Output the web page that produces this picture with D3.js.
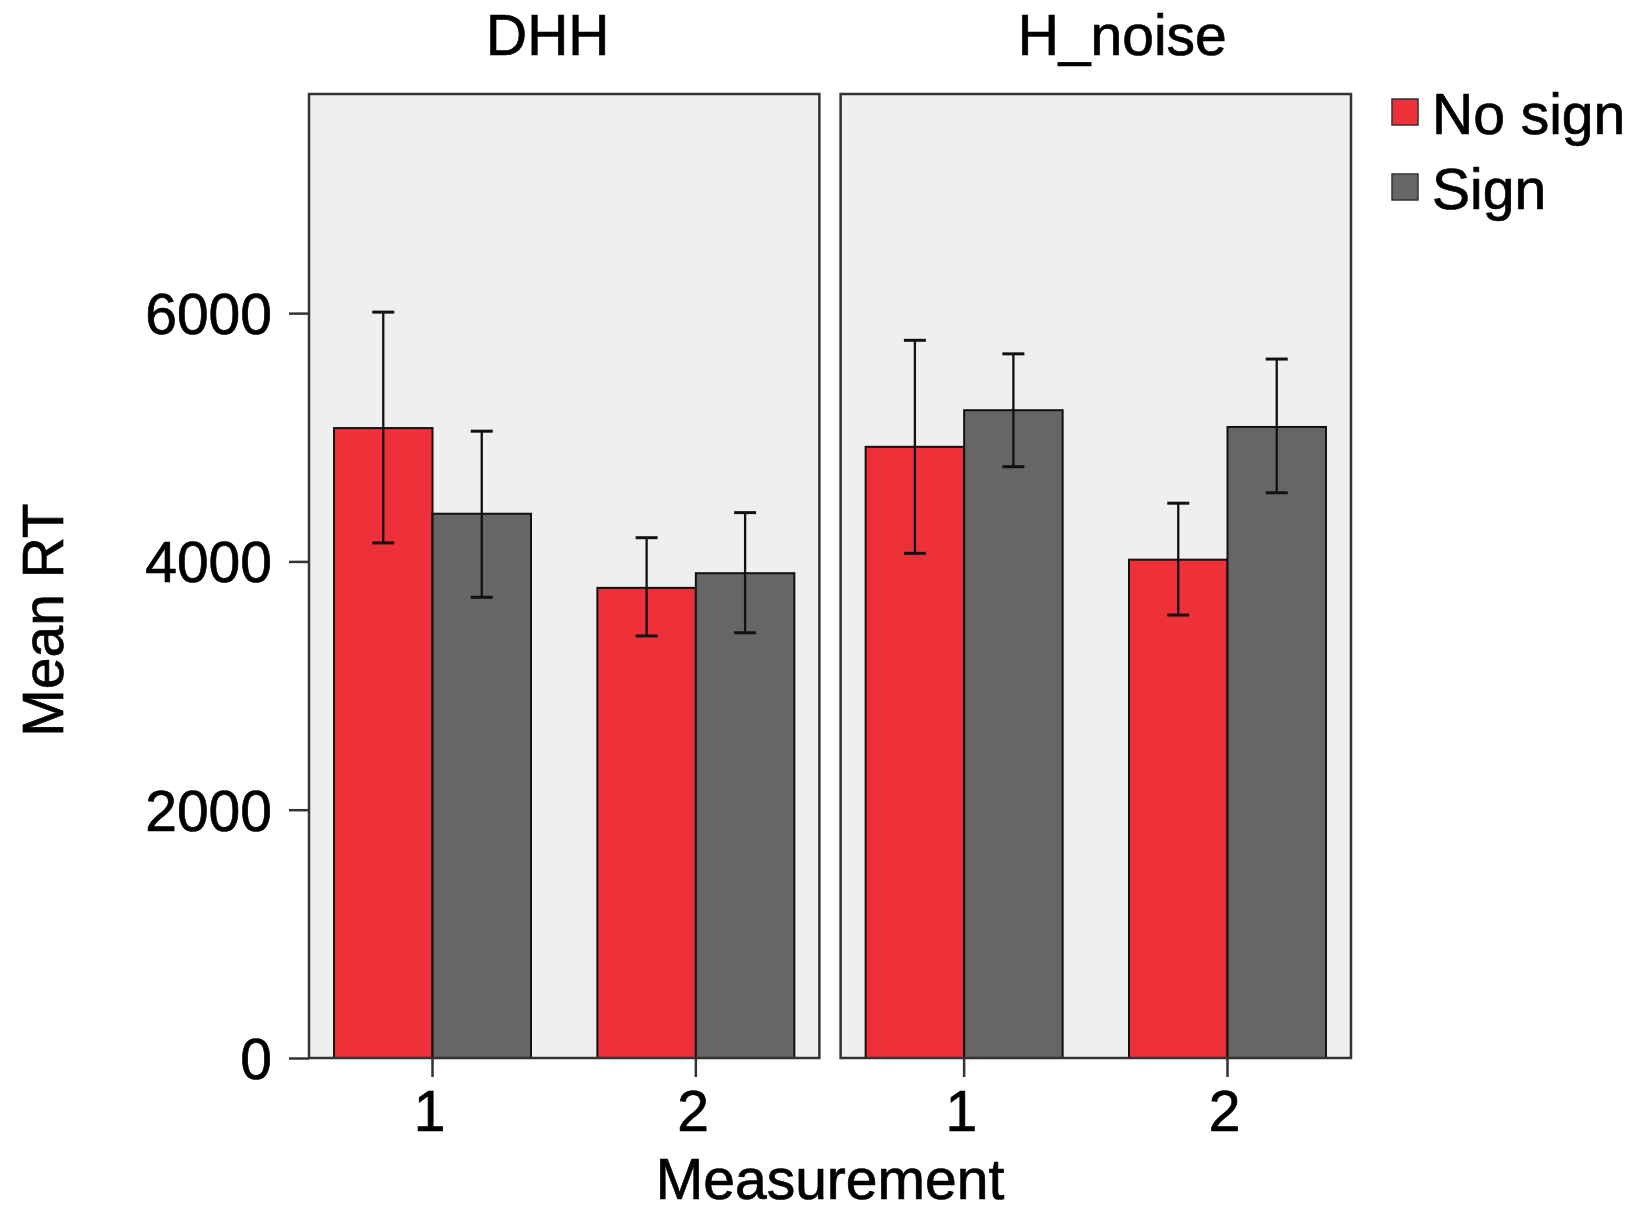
<!DOCTYPE html>
<html>
<head>
<meta charset="utf-8">
<script src="https://cdn.jsdelivr.net/npm/d3@7"></script>
<style>
  body { margin: 0; background: #fff; }
  text { font-family: "Liberation Sans", Arial, sans-serif; fill: #000; stroke: #000; stroke-width: 0.7px; }
</style>
</head>
<body>
<svg id="chart" width="1637" height="1209"></svg>
<script>
'use strict';

// facets, categories and series
const groups = ["DHH", "H_noise"];
const measurements = ["1", "2"];
const conditions = ["No sign", "Sign"];

// means and error bar ends, order: DHH 1, DHH 2, H_noise 1, H_noise 2
const noSignMean = [5074, 3787, 4923, 4014];
const noSignLow  = [4149, 3400, 4065, 3568];
const noSignHigh = [6008, 4191, 5781, 4469];
const signMean   = [4384, 3905, 5218, 5083];
const signLow    = [3711, 3425, 4763, 4553];
const signHigh   = [5049, 4393, 5672, 5630];

const yTicks = [0, 2000, 4000, 6000];

const colors = {"No sign": "#ee3039", "Sign": "#666666"};

// build rows
var rows = [];
groups.forEach(function(g, gi) {
    measurements.forEach(function(m, mi) {
        var i = gi * measurements.length + mi;
        rows.push({group: g, m: m, cond: "No sign", mean: noSignMean[i], low: noSignLow[i], high: noSignHigh[i]});
        rows.push({group: g, m: m, cond: "Sign", mean: signMean[i], low: signLow[i], high: signHigh[i]});
    });
});

var svg = d3.select("#chart");
var plotTop = 94, plotBottom = 1058;
var fontSize = "57px";

var y = d3.scaleLinear().domain([0, 7765]).range([plotBottom, plotTop]);

var facet = d3.scaleBand().domain(groups).range([309, 1351]).paddingInner(0.04);

var x = d3.scaleBand().domain(measurements)
    .range([0, facet.bandwidth()])
    .paddingInner(0.252)
    .paddingOuter(0.095);

var xc = d3.scaleBand().domain(conditions).range([0, x.bandwidth()]);

groups.forEach(function(g) {
    var panel = svg.append("g")
        .attr("class", "panel")
        .attr("transform", "translate(" + facet(g) + ",0)");

    //panel background
    panel.append("rect")
        .attr("x", 0)
        .attr("y", plotTop)
        .attr("width", facet.bandwidth())
        .attr("height", plotBottom - plotTop)
        .style("fill", "#efefef");

    var bars = panel.selectAll(".bar")
        .data(rows.filter(function(d) { return d.group === g; }))
        .enter().append("g")
        .attr("class", "bar");

    bars.append("rect")
        .attr("x", function(d) { return x(d.m) + xc(d.cond); })
        .attr("y", function(d) { return y(d.mean); })
        .attr("width", xc.bandwidth())
        .attr("height", function(d) { return y(0) - y(d.mean); })
        .style("fill", function(d) { return colors[d.cond]; })
        .style("stroke", "#111")
        .style("stroke-width", 2);

    //error bars
    bars.append("line")
        .attr("x1", function(d) { return x(d.m) + xc(d.cond) + xc.bandwidth() / 2; })
        .attr("x2", function(d) { return x(d.m) + xc(d.cond) + xc.bandwidth() / 2; })
        .attr("y1", function(d) { return y(d.low); })
        .attr("y2", function(d) { return y(d.high); })
        .style("stroke", "#111")
        .style("stroke-width", 2.3);

    ["low", "high"].forEach(function(k) {
        bars.append("line")
            .attr("x1", function(d) { return x(d.m) + xc(d.cond) + xc.bandwidth() / 2 - 11; })
            .attr("x2", function(d) { return x(d.m) + xc(d.cond) + xc.bandwidth() / 2 + 11; })
            .attr("y1", function(d) { return y(d[k]); })
            .attr("y2", function(d) { return y(d[k]); })
            .style("stroke", "#111")
            .style("stroke-width", 3);
    });

    //panel border
    panel.append("rect")
        .attr("x", 0)
        .attr("y", plotTop)
        .attr("width", facet.bandwidth())
        .attr("height", plotBottom - plotTop)
        .style("fill", "none")
        .style("stroke", "#333")
        .style("stroke-width", 2.5);

    //x axis
    var xAxis = panel.append("g")
        .attr("transform", "translate(0," + plotBottom + ")")
        .call(d3.axisBottom(x).tickSize(19).tickPadding(14));
    xAxis.select(".domain").remove();
    xAxis.selectAll("line").style("stroke", "#333").style("stroke-width", 2.5);
    xAxis.selectAll("text")
        .attr("dx", "-0.05em")
        .style("font-size", fontSize)
        .style("font-family", "'Liberation Sans', Arial, sans-serif")
        .style("fill", "#000");

    //facet title
    panel.append("text")
        .attr("x", 177)
        .attr("y", 55)
        .style("font-size", fontSize)
        .text(g);
});

//y axis on the first panel
var yAxis = svg.append("g")
    .attr("transform", "translate(" + facet(groups[0]) + ",0)")
    .call(d3.axisLeft(y).tickValues(yTicks).tickFormat(d3.format("d")).tickSize(20).tickPadding(17));
yAxis.select(".domain").remove();
yAxis.selectAll("line").style("stroke", "#333").style("stroke-width", 2.5);
yAxis.selectAll("text")
    .attr("dy", "0.36em")
    .style("font-size", fontSize)
    .style("font-family", "'Liberation Sans', Arial, sans-serif")
    .style("fill", "#000");

//axis titles
svg.append("text")
    .attr("transform", "translate(63,620) rotate(-90)")
    .attr("text-anchor", "middle")
    .style("font-size", fontSize)
    .text("Mean RT");

svg.append("text")
    .attr("x", (facet.range()[0] + facet.range()[1]) / 2)
    .attr("y", 1199)
    .attr("text-anchor", "middle")
    .style("font-size", fontSize)
    .text("Measurement");

//legend
var legend = svg.selectAll(".legend")
    .data(conditions)
    .enter().append("g")
    .attr("class", "legend")
    .attr("transform", function(d, i) { return "translate(1392," + (99 + i * 75) + ")"; });

legend.append("rect")
    .attr("width", 26)
    .attr("height", 26)
    .style("fill", function(d) { return colors[d]; })
    .style("stroke", "#333")
    .style("stroke-width", 1.5);

legend.append("text")
    .attr("x", 40)
    .attr("y", 35)
    .style("font-size", fontSize)
    .text(function(d) { return d; });
</script>
</body>
</html>
